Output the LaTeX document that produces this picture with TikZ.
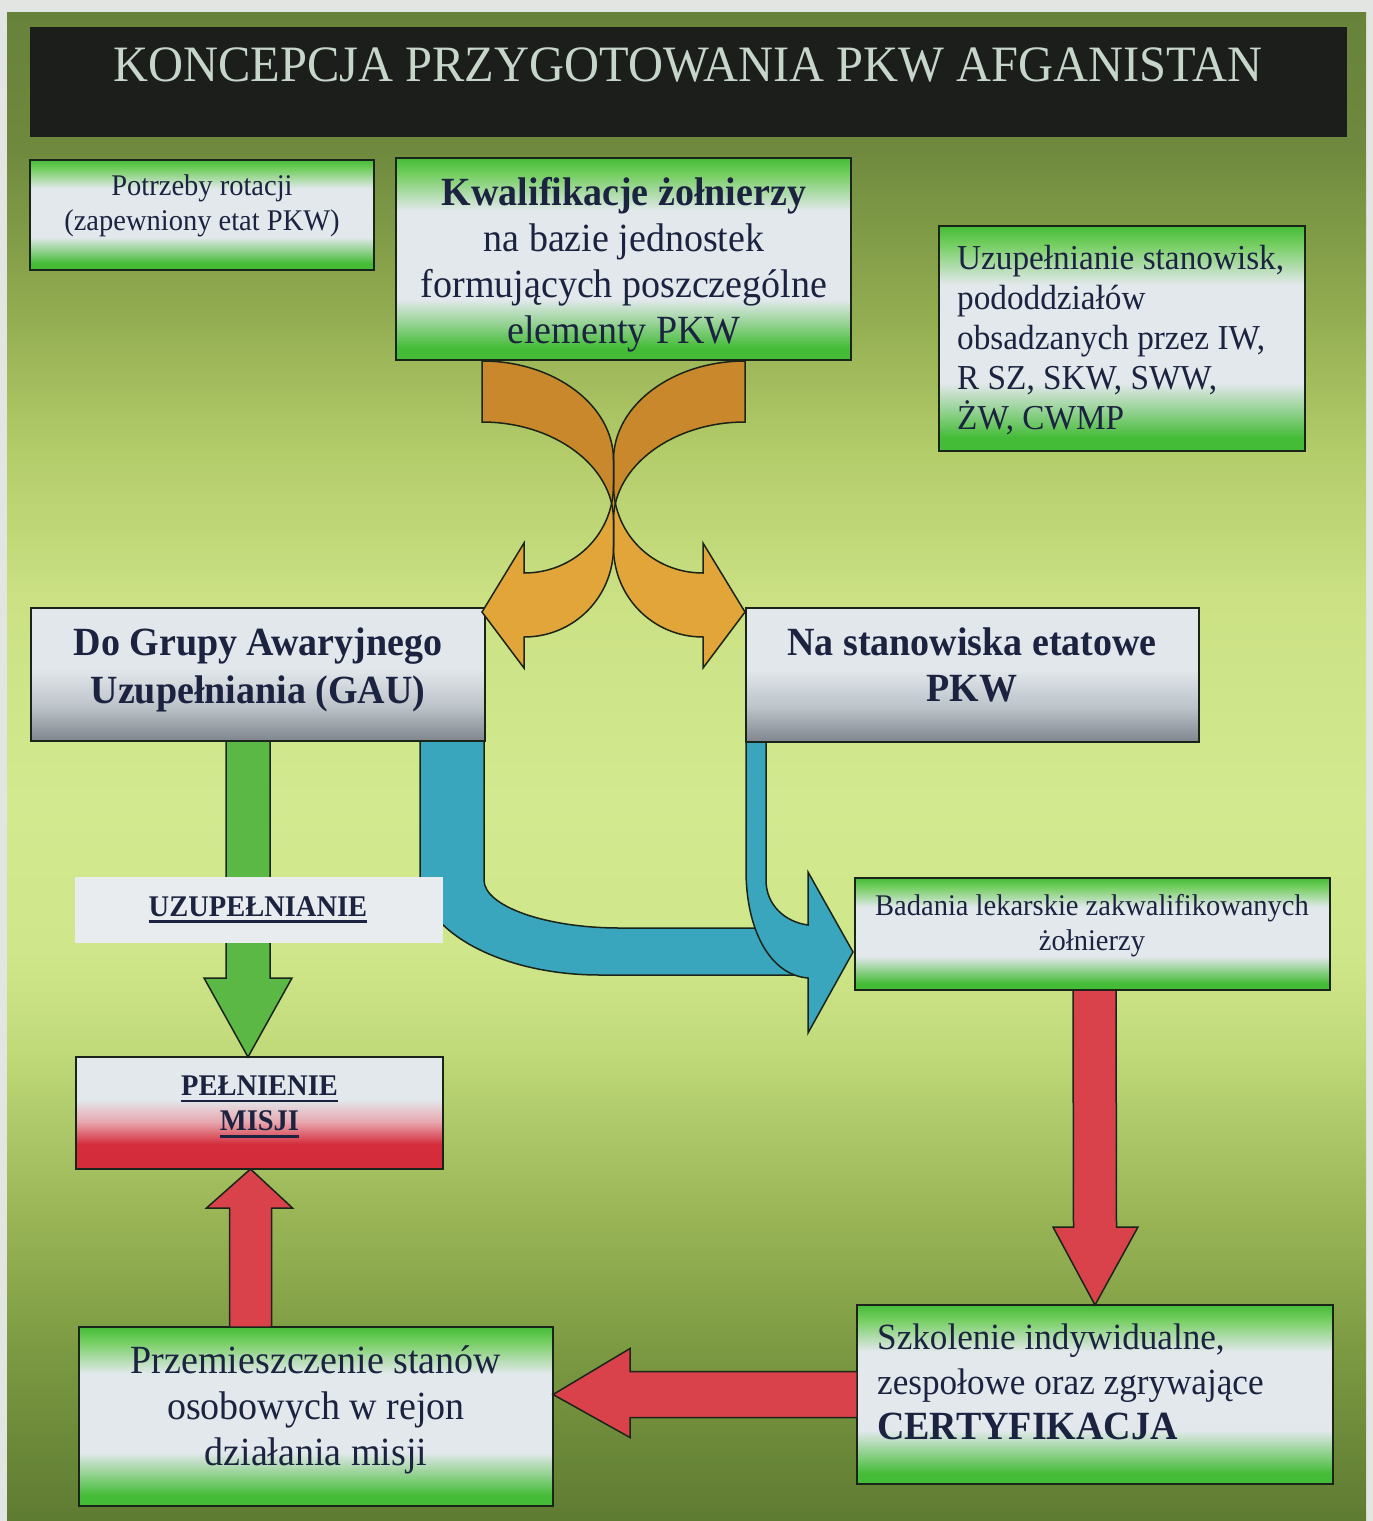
\documentclass[tikz,border=0pt]{standalone}
\usepackage{fontspec}
\setmainfont[FakeStretch=0.95]{Liberation Serif}
\newfontfamily\titlefont[FakeStretch=0.95]{Liberation Serif}
\usetikzlibrary{calc}

\definecolor{bgouter}{HTML}{E3E5E2}
\definecolor{titlebg}{HTML}{1C1E1C}
\definecolor{titletxt}{HTML}{C6D6CA}
\definecolor{txtdark}{HTML}{1B2340}
\definecolor{edge}{HTML}{1A2418}
\definecolor{boxgreen}{HTML}{45BC38}
\definecolor{boxgreenlt}{HTML}{74CE60}
\definecolor{boxwhite}{HTML}{E2E8EB}
\definecolor{graylt}{HTML}{E2E7EB}
\definecolor{graymid}{HTML}{BCC3C9}
\definecolor{graydk}{HTML}{7E858C}
\definecolor{boxred}{HTML}{D42C3A}
\definecolor{boxpink}{HTML}{E8A6AE}
\definecolor{arrowgreen}{HTML}{5CB844}
\definecolor{arrowred}{HTML}{D9424A}
\definecolor{arrowblue}{HTML}{3AA6BE}
\definecolor{orangedk}{HTML}{C9882C}
\definecolor{orangelt}{HTML}{E2A53A}
\definecolor{labelbg}{HTML}{E9ECEE}
\definecolor{bgA}{HTML}{5E7B32}
\definecolor{bgB}{HTML}{7C9A42}
\definecolor{bgC}{HTML}{9CB858}
\definecolor{bgD}{HTML}{C0DA7A}
\definecolor{bgE}{HTML}{D0E68A}
\definecolor{bgF}{HTML}{D3E98F}
\definecolor{bgG}{HTML}{CBE184}
\definecolor{bgH}{HTML}{B3CC6A}
\definecolor{bgI}{HTML}{8EA94E}
\definecolor{bgJ}{HTML}{6F8A3E}
\definecolor{bgK}{HTML}{67823A}

\pgfdeclareverticalshading{panelshade}{100bp}{color(0bp)=(bgA); color(25bp)=(bgA); color(30.7bp)=(bgB); color(35.6bp)=(bgC); color(40.6bp)=(bgD); color(43.9bp)=(bgE); color(48.9bp)=(bgF); color(55.5bp)=(bgG); color(60.5bp)=(bgH); color(65.5bp)=(bgI); color(70.4bp)=(bgJ); color(75bp)=(bgK); color(100bp)=(bgK)}
\pgfdeclareverticalshading{greenshade}{100bp}{color(0bp)=(boxgreen); color(25bp)=(boxgreen); color(28bp)=(boxgreen); color(40bp)=(boxwhite); color(62bp)=(boxwhite); color(71bp)=(boxgreenlt); color(75bp)=(boxgreen); color(100bp)=(boxgreen)}
\pgfdeclareverticalshading{grayshade}{100bp}{color(0bp)=(graydk); color(25bp)=(graydk); color(38bp)=(graymid); color(52bp)=(graylt); color(75bp)=(graylt); color(100bp)=(graylt)}
\pgfdeclareverticalshading{redshade}{100bp}{color(0bp)=(boxred); color(25bp)=(boxred); color(36bp)=(boxred); color(46bp)=(boxpink); color(56bp)=(boxwhite); color(75bp)=(boxwhite); color(100bp)=(boxwhite)}

\newcommand{\ulbar}[1]{\leavevmode\vtop{\hbox{#1}\kern4pt\hrule height 2.5pt}}

\tikzset{
  boxline/.style={draw=edge, line width=2pt},
  gbox/.style={rectangle, boxline, shade, shading=greenshade, inner sep=0pt, outer sep=0pt},
  graybox/.style={rectangle, boxline, shade, shading=grayshade, inner sep=0pt, outer sep=0pt},
  redbox/.style={rectangle, boxline, shade, shading=redshade, inner sep=0pt, outer sep=0pt},
  txt/.style={text=txtdark, inner sep=0pt, align=center},
  arrline/.style={draw=edge, line width=1.5pt, line join=miter},
  redarr/.style={arrline, fill=arrowred},
  greenarr/.style={arrline, fill=arrowgreen},
  bluearr/.style={arrline, fill=arrowblue},
  orangepath/.style={insert path={(-131.5,1) .. controls (-59.5,1) and (0,45) .. (0,100) -- (0,125) .. controls (0,174) and (39.5,213) .. (89.5,213) -- (89.5,183) -- (131.5,252) -- (89.5,308) -- (89.5,277) .. controls (39.5,277) and (0,237) .. (0,187) -- (0,160) .. controls (0,106) and (-59.5,62) .. (-131.5,62) -- cycle}}
}

\begin{document}
\begin{tikzpicture}[x=1pt,y=-1pt]
\useasboundingbox (0,0) rectangle (1373,1521);
\fill[bgouter] (0,0) rectangle (1373,1521);
\shade[shading=panelshade] (7,12) rectangle (1366,1521);

% title
\node[fill=titlebg, minimum width=1317, minimum height=110, inner sep=0pt, anchor=north west] (titlebar) at (30,27) {};
\node[anchor=base, text=titletxt, inner sep=0pt, font=\titlefont\fontsize{51}{51}\selectfont] (title) at (688,81) {KONCEPCJA PRZYGOTOWANIA PKW AFGANISTAN};

% boxes
\node[gbox, minimum width=344, minimum height=110] (rot) at (202,215) {};
\node[gbox, minimum width=455, minimum height=202] (kwal) at (623.5,259) {};
\node[gbox, minimum width=366, minimum height=225] (uzu) at (1122,338.5) {};
\node[graybox, minimum width=454, minimum height=133] (gau) at (258,674.5) {};
\node[graybox, minimum width=453, minimum height=134] (nas) at (972.5,675) {};
\node[redbox, minimum width=367, minimum height=112] (pel) at (259.5,1113) {};
\node[gbox, minimum width=475, minimum height=112] (bad) at (1092.5,934) {};
\node[gbox, minimum width=474, minimum height=179] (prz) at (316,1416.5) {};
\node[gbox, minimum width=476, minimum height=179] (szk) at (1095,1394.5) {};

% orange crossing arrows
\coordinate (oax) at ($(kwal.south)+(-10,0)$);
\begin{scope}[shift={(oax)}]
  \foreach \s in {1,-1}{\begin{scope}[xscale=\s]\fill[orangelt] [orangepath];\end{scope}}
  \foreach \s in {1,-1}{\begin{scope}[xscale=\s]\clip (-200,-10) rectangle (0,400);\fill[orangedk] [orangepath];\end{scope}}
  \foreach \s in {1,-1}{\begin{scope}[xscale=\s]\draw[draw=edge, line width=1.5pt] [orangepath];\end{scope}}
\end{scope}

% blue band from GAU
\begin{scope}[shift={(gau.south east)}]
  \draw[bluearr] (-65,0) -- (-65,136) .. controls (-65,190) and (16,234) .. (115,234) -- (325,234) -- (325,187) -- (135,187) .. controls (60,187) and (-1,165) .. (-1,139) -- (-1,0) -- cycle;
\end{scope}
% blue arrow from Na stanowiska to Badania
\begin{scope}[shift={(nas.south west)}]
  \draw[bluearr] (0,0) -- (0,128) .. controls (0,188) and (24,233) .. (62,236) -- (62,291) -- (107,210) -- (62,130) -- (62,183) .. controls (39,180) and (20,163) .. (20,138) -- (20,0) -- cycle;
\end{scope}

% green arrow GAU -> PELNIENIE
\coordinate (gdA) at ($(gau.south)+(-10,0)$);
\coordinate (gdB) at (gdA |- pel.north);
\draw[greenarr] ($(gdA)+(-22,0)$) -- ($(gdB)+(-22,-79)$) -- ($(gdB)+(-44,-79)$) -- (gdB) -- ($(gdB)+(44,-79)$) -- ($(gdB)+(22,-79)$) -- ($(gdA)+(22,0)$) -- cycle;

% red arrow Badania -> Szkolenie
\coordinate (rdA) at ($(bad.south)+(2,0)$);
\coordinate (rdB) at (szk.north);
\draw[redarr] ($(rdA)+(-21.5,0)$) -- ($(rdB)+(-21.5,-78)$) -- ($(rdB)+(-42,-78)$) -- (rdB) -- ($(rdB)+(43,-78)$) -- ($(rdB)+(21.5,-78)$) -- ($(rdA)+(21.5,0)$) -- cycle;

% red arrow Szkolenie -> Przemieszczenie
\coordinate (rlA) at (szk.west);
\coordinate (rlB) at (prz.east |- szk.west);
\draw[redarr] ($(rlA)+(0,-23)$) -- ($(rlB)+(77,-23)$) -- ($(rlB)+(77,-46)$) -- (rlB) -- ($(rlB)+(77,43)$) -- ($(rlB)+(77,23)$) -- ($(rlA)+(0,23)$) -- cycle;

% red arrow Przemieszczenie -> PELNIENIE
\coordinate (ruB) at ($(pel.south)+(-9,0)$);
\coordinate (ruA) at (ruB |- prz.north);
\draw[redarr] ($(ruA)+(-21,0)$) -- ($(ruB)+(-21,39)$) -- ($(ruB)+(-44,39)$) -- (ruB) -- ($(ruB)+(42,39)$) -- ($(ruB)+(21,39)$) -- ($(ruA)+(21,0)$) -- cycle;

% label on green arrow
\node[fill=labelbg, minimum width=368, minimum height=66, inner sep=0pt] (lab) at (259,910) {};
\node[txt, anchor=base, font=\bfseries\fontsize{30}{35}\selectfont] (labtxt) at (258,916) {\ulbar{UZUPEŁNIANIE}};

% texts
\node[txt, font=\fontsize{30}{35}\selectfont] (rottxt) at (202,205.5) {Potrzeby rotacji\\(zapewniony etat PKW)};
\node[txt, font=\fontsize{40}{46}\selectfont] (kwaltxt) at (624,265) {\textbf{Kwalifikacje żołnierzy}\\na bazie jednostek\\formujących poszczególne\\elementy PKW};
\node[txt, align=left, anchor=west, font=\fontsize{35}{40}\selectfont] (uzutxt) at (957,340) {Uzupełnianie stanowisk,\\pododdziałów\\obsadzanych przez IW,\\R SZ, SKW, SWW,\\ŻW, CWMP};
\node[txt, font=\bfseries\fontsize{40}{48}\selectfont] (gautxt) at (258,670) {Do Grupy Awaryjnego\\Uzupełniania (GAU)};
\node[txt, font=\bfseries\fontsize{40}{46}\selectfont] (nastxt) at (972,665) {Na stanowiska etatowe\\PKW};
\node[txt, font=\bfseries\fontsize{30}{35}\selectfont] (peltxt) at (259.5,1107) {\ulbar{PEŁNIENIE}\\\ulbar{MISJI}};
\node[txt, font=\fontsize{30}{35}\selectfont] (badtxt) at (1092,925.5) {Badania lekarskie zakwalifikowanych\\żołnierzy};
\node[txt, font=\fontsize{40}{46}\selectfont] (prztxt) at (316,1410) {Przemieszczenie stanów\\osobowych w rejon\\działania misji};
\node[txt, align=left, anchor=west, font=\fontsize{37}{45}\selectfont] (szktxt) at (877,1381.5) {Szkolenie indywidualne,\\zespołowe oraz zgrywające\\{\fontsize{40}{45}\selectfont\bfseries CERTYFIKACJA}};
\end{tikzpicture}
\end{document}
